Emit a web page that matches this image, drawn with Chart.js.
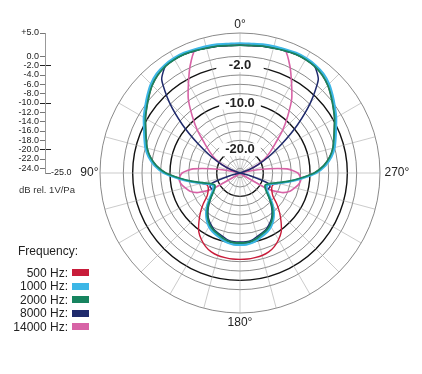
<!DOCTYPE html>
<html>
<head>
<meta charset="utf-8">
<script src="https://cdn.jsdelivr.net/npm/chart.js@4/dist/chart.umd.min.js"></script>
<style>
  body { margin: 0; background: #fff; }
  #wrap { position: relative; width: 422px; height: 374px; overflow: hidden; background: #fff;
          font-family: "Liberation Sans", Arial, sans-serif; color: #222; }
  #polar, #scale { position: absolute; left: 0; top: 0; }
  #legend { position: absolute; left: 0; top: 244px; font-size: 12px; }
  #legend .title { position: absolute; left: 18px; top: 0; white-space: nowrap; }
  #legend .row { position: absolute; left: 0; height: 14px; line-height: 14px; white-space: nowrap; }
  #legend .row span { display: inline-block; vertical-align: middle; }
  #legend .name { width: 68px; text-align: right; }
  #legend .box { width: 17px; height: 7px; margin-left: 4px; }
</style>
</head>
<body>
<div id="wrap">
  <canvas id="polar" width="422" height="374"></canvas>
  <canvas id="scale" width="94" height="200"></canvas>
  <div id="legend"></div>
</div>
<script>
// angle of each reading, counter-clockwise from the front (0 deg at top, 90 deg at left)
const angles = [0,5,10,15,20,25,30,35,40,45,50,55,60,65,70,75,80,85,90,95,100,105,110,115,
  120,125,130,135,140,145,150,155,160,165,170,175,180,185,190,195,200,205,210,215,220,225,230,235,
  240,245,250,255,260,265,270,275,280,285,290,295,300,305,310,315,320,325,330,335,340,345,350,355];

// response in dB for each angle above
const hz500 = [
  2.4, 2.4, 2.6, 2.7, 2.9, 3.1, 3.1, 2.9, 2.4, 1.6, 0.5, -0.6,
  -1.6, -2.7, -3.6, -4.4, -5.5, -7.0, -9.1, -12.0, -14.3, -16.4, -17.5, -17.5,
  -17.1, -16.4, -14.7, -13.0, -11.3, -9.6, -8.5, -7.6, -7.0, -6.7, -6.6, -6.5,
  -6.5, -6.5, -6.6, -6.7, -7.0, -7.6, -8.5, -9.6, -11.3, -13.0, -14.7, -16.4,
  -17.1, -17.5, -17.5, -16.4, -14.3, -12.0, -9.1, -7.0, -5.5, -4.4, -3.6, -2.7,
  -1.6, -0.6, 0.5, 1.6, 2.4, 2.9, 3.1, 3.1, 2.9, 2.7, 2.6, 2.4
];
const hz1000 = [
  2.8, 2.8, 3.0, 3.1, 3.2, 3.4, 3.4, 3.2, 2.8, 2.0, 0.9, -0.2,
  -1.2, -2.3, -3.2, -4.0, -5.1, -6.6, -8.7, -11.7, -14.3, -16.5, -18.0, -18.6,
  -18.4, -17.7, -16.5, -15.0, -13.7, -12.6, -11.7, -11.1, -10.7, -10.2, -9.8, -9.6,
  -9.6, -9.6, -9.8, -10.2, -10.7, -11.1, -11.7, -12.6, -13.7, -15.0, -16.5, -17.7,
  -18.4, -18.6, -18.0, -16.5, -14.3, -11.7, -8.7, -6.6, -5.1, -4.0, -3.2, -2.3,
  -1.2, -0.2, 0.9, 2.0, 2.8, 3.2, 3.4, 3.4, 3.2, 3.1, 3.0, 2.8
];
const hz2000 = [
  2.4, 2.4, 2.6, 2.7, 2.9, 3.1, 3.1, 2.9, 2.4, 1.6, 0.5, -0.6,
  -1.6, -2.7, -3.6, -4.4, -5.5, -7.0, -9.1, -12.1, -14.7, -16.9, -18.4, -19.0,
  -18.8, -18.1, -16.9, -15.4, -14.1, -13.0, -12.1, -11.5, -11.1, -10.6, -10.2, -10.0,
  -10.0, -10.0, -10.2, -10.6, -11.1, -11.5, -12.1, -13.0, -14.1, -15.4, -16.9, -18.1,
  -18.8, -19.0, -18.4, -16.9, -14.7, -12.1, -9.1, -7.0, -5.5, -4.4, -3.6, -2.7,
  -1.6, -0.6, 0.5, 1.6, 2.4, 2.9, 3.1, 3.1, 2.9, 2.7, 2.6, 2.4
];
const hz8000 = [
  2.4, 2.4, 2.6, 2.7, 2.9, 3.1, 3.1, 2.9, 1.1, -3.6, -8.9, -13.9,
  -17.7, -20.7, -23.1, -25, -25, -25, -25, -25, -25, -22.9, -18.6, -17.9,
  -18.1, -17.9, -16.9, -15.6, -14.3, -13.2, -12.4, -11.7, -11.3, -10.9, -10.4, -10.2,
  -10.2, -10.2, -10.4, -10.9, -11.3, -11.7, -12.4, -13.2, -14.3, -15.6, -16.9, -17.9,
  -18.1, -17.9, -18.6, -22.9, -25, -25, -25, -25, -25, -25, -23.1, -20.7,
  -17.7, -13.9, -8.9, -3.6, 1.1, 2.9, 3.1, 3.1, 2.9, 2.7, 2.6, 2.4
];
const hz14000 = [
  2.4, 2.5, 2.6, 2.9, 3.1, 0.3, -2.9, -5.7, -9.1, -12.1, -15.1, -17.1,
  -18.8, -20.7, -22.9, -24.4, -20.3, -14.9, -12.6, -11.9, -12.1, -12.8, -13.6, -15.1,
  -18.1, -23.9, -25, -25, -25, -25, -25, -25, -25, -25, -25, -25,
  -25, -25, -25, -25, -25, -25, -25, -25, -25, -25, -25, -23.9,
  -18.1, -15.1, -13.6, -12.8, -12.1, -11.9, -12.6, -14.9, -20.3, -24.4, -22.9, -20.7,
  -18.8, -17.1, -15.1, -12.1, -9.1, -5.7, -2.9, 0.3, 3.1, 2.9, 2.6, 2.5
];

const seriesNames = ['500 Hz:', '1000 Hz:', '2000 Hz:', '8000 Hz:', '14000 Hz:'];
const seriesColors = ['#c81c3a', '#3cb6e6', '#17845f', '#1f2a6c', '#d763a6'];
const seriesData = [hz500, hz1000, hz2000, hz8000, hz14000];

const ringValues = [-24, -22, -20, -18, -16, -14, -12, -10, -8, -6, -4, -2, 0, 5];
const ringLabels = [-2, -10, -20];
const axisValues = [5, 0, -2, -4, -6, -8, -10, -12, -14, -16, -18, -20, -22, -24];
const cardinalAngles = [0, 90, 180, 270];
const cardinalLabels = ['0°', '90°', '180°', '270°'];

// radar goes clockwise, the plot counts counter-clockwise
const n = angles.length;
const cw = arr => arr.map((v, i) => arr[(n - i) % n]);
const radarLabels = cw(angles);

const datasets = seriesData.map((arr, k) => ({
  label: seriesNames[k],
  data: cw(arr),
  borderColor: seriesColors[k],
  borderWidth: [1.4, 2.2, 1.8, 1.5, 1.6][k],
  pointRadius: 0,
  fill: false,
  tension: 0.2,
  order: [4, 2, 1, 3, 5][k]
}));

const cardinalPlugin = {
  id: 'cardinal',
  afterDraw(chart) {
    const s = chart.scales.r;
    const ctx = chart.ctx;
    const place = [
      {gap: 8.5, align: 'center'},
      {gap: 1.5, align: 'right'},
      {gap: 10, align: 'center'},
      {gap: 4.5, align: 'left'}
    ];
    ctx.save();
    ctx.font = '12px "Liberation Sans", Arial, sans-serif';
    ctx.fillStyle = '#222';
    ctx.textBaseline = 'middle';
    cardinalAngles.forEach((a, k) => {
      const idx = radarLabels.indexOf(a);
      const p = s.getPointPosition(idx, s.drawingArea + place[k].gap);
      ctx.textAlign = place[k].align;
      ctx.fillText(cardinalLabels[k], p.x, p.y);
    });
    ctx.restore();
  }
};

new Chart(document.getElementById('polar'), {
  type: 'radar',
  data: { labels: radarLabels, datasets: datasets },
  options: {
    responsive: false,
    animation: false,
    layout: { padding: { left: 94, right: 35, top: 26.5, bottom: 54.5 } },
    plugins: { legend: { display: false }, tooltip: { enabled: false } },
    scales: {
      r: {
        min: -25,
        max: 5,
        afterBuildTicks: s => { s.ticks = ringValues.map(v => ({ value: v })); },
        grid: {
          circular: true,
          color: c => ringLabels.includes(c.tick.value) ? '#111' : '#3a3a3a',
          lineWidth: c => ringLabels.includes(c.tick.value) ? 1.4 : 0.6
        },
        angleLines: {
          color: '#a8a8a8',
          lineWidth: c => (c.index % 3 === 0 ? 0.6 : 0)
        },
        pointLabels: { display: false },
        ticks: {
          callback: v => v === -2 ? '\u2002-2.0\u2002' : (ringLabels.includes(v) ? v.toFixed(1) : ''),
          font: { family: '"Liberation Sans", Arial, sans-serif', size: 13, weight: 'bold' },
          color: '#222',
          showLabelBackdrop: c => !!c.tick && ringLabels.includes(c.tick.value),
          backdropColor: '#fff',
          backdropPadding: { x: 6, y: 0 }
        }
      }
    }
  },
  plugins: [cardinalPlugin]
});

// left-hand dB scale
new Chart(document.getElementById('scale'), {
  type: 'line',
  data: { labels: [], datasets: [] },
  options: {
    responsive: false,
    animation: false,
    layout: { padding: { left: 0, right: 0, top: 33, bottom: 2.3 } },
    plugins: {
      legend: { display: false },
      tooltip: { enabled: false },
      title: {
        display: true,
        text: 'dB rel. 1V/Pa',
        position: 'bottom',
        color: '#333',
        font: { family: '"Liberation Sans", Arial, sans-serif', size: 9.5, weight: 'normal' },
        padding: { top: 11.3, bottom: 2 }
      }
    },
    scales: {
      x: { display: false },
      y: {
        position: 'left',
        min: -25,
        max: 5,
        afterBuildTicks: s => { s.ticks = axisValues.map(v => ({ value: v })); },
        afterFit: s => { s.width = 45; },
        ticks: {
          autoSkip: false,
          padding: 1,
          color: '#222',
          font: { family: '"Liberation Sans", Arial, sans-serif', size: 9 },
          callback: v => (v > 0 ? '+' : '') + v.toFixed(1)
        },
        grid: {
          drawOnChartArea: true,
          tickLength: 5,
          color: c => ringLabels.includes(c.tick.value) ? '#222' : 'transparent',
          tickColor: c => ringLabels.includes(c.tick.value) ? '#222' : '#777'
        },
        border: { color: '#999', width: 1 }
      },
      y2: {
        position: 'right',
        min: -25,
        max: 5,
        afterBuildTicks: s => { s.ticks = [{ value: -25 }]; },
        afterFit: s => { s.width = 43; },
        ticks: {
          padding: 0,
          color: '#222',
          font: { family: '"Liberation Sans", Arial, sans-serif', size: 9 },
          callback: v => v.toFixed(1)
        },
        grid: {
          drawTicks: false,
          color: c => c.tick.value === -25 ? '#777' : 'transparent'
        },
        border: { display: false }
      }
    }
  }
});

// legend
const legend = document.getElementById('legend');
legend.innerHTML = '<div class="title">Frequency:</div>' + seriesNames.map((name, k) =>
  '<div class="row" style="top:' + (21 + k * 13.5) + 'px"><span class="name">' + name +
  '</span><span class="box" style="background:' + seriesColors[k] + '"></span></div>').join('');
</script>
</body>
</html>
